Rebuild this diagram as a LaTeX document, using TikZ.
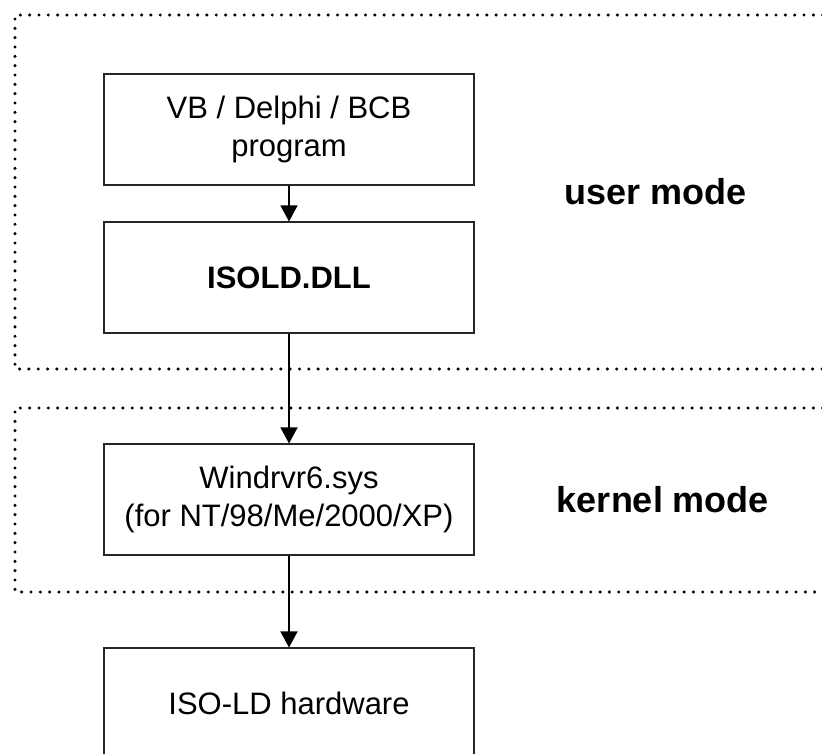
\documentclass[tikz,border=0pt]{standalone}
\usepackage{fontspec}
\setmainfont{Liberation Sans}
\usetikzlibrary{arrows.meta}
\begin{document}
\begin{tikzpicture}[x=1pt,y=-1pt,
  boxnode/.style={draw=black!85,line width=1.1pt,minimum width=370pt,minimum height=111pt,
    align=center,inner sep=0pt,font=\fontsize{31}{38}\selectfont},
  modelabel/.style={font=\fontsize{36}{43}\selectfont\bfseries},
  zone/.style={line width=3.4pt,line cap=round,dash pattern=on 0pt off 9.33pt},
  conn/.style={line width=1.5pt,-{Triangle[width=17pt,length=16pt]}}]
\clip (0,0) rectangle (822,753);
\fill[white] (0,0) rectangle (822,753);
\draw[zone] (860,15) -- (15,15) -- (15,369) -- (860,369);
\draw[zone] (860,408) -- (15,408) -- (15,592) -- (860,592);
\node[boxnode] (prog) at (289,129.5) {VB / Delphi / BCB\\program};
\node[boxnode] (dll) at (289,277.5) {\textbf{ISOLD.DLL}};
\node[boxnode] (sys) at (289,499.5) {Windrvr6.sys\\(for NT/98/Me/2000/XP)};
\node[boxnode] (hw) at (289,703.5) {ISO-LD hardware};
\node[modelabel] (user) at (655.5,192) {user mode};
\node[modelabel] (kern) at (663,500) {kernel mode};
\draw[conn] (prog) -- (dll);
\draw[conn] (dll) -- (sys);
\draw[conn] (sys) -- (hw);
\end{tikzpicture}
\end{document}
